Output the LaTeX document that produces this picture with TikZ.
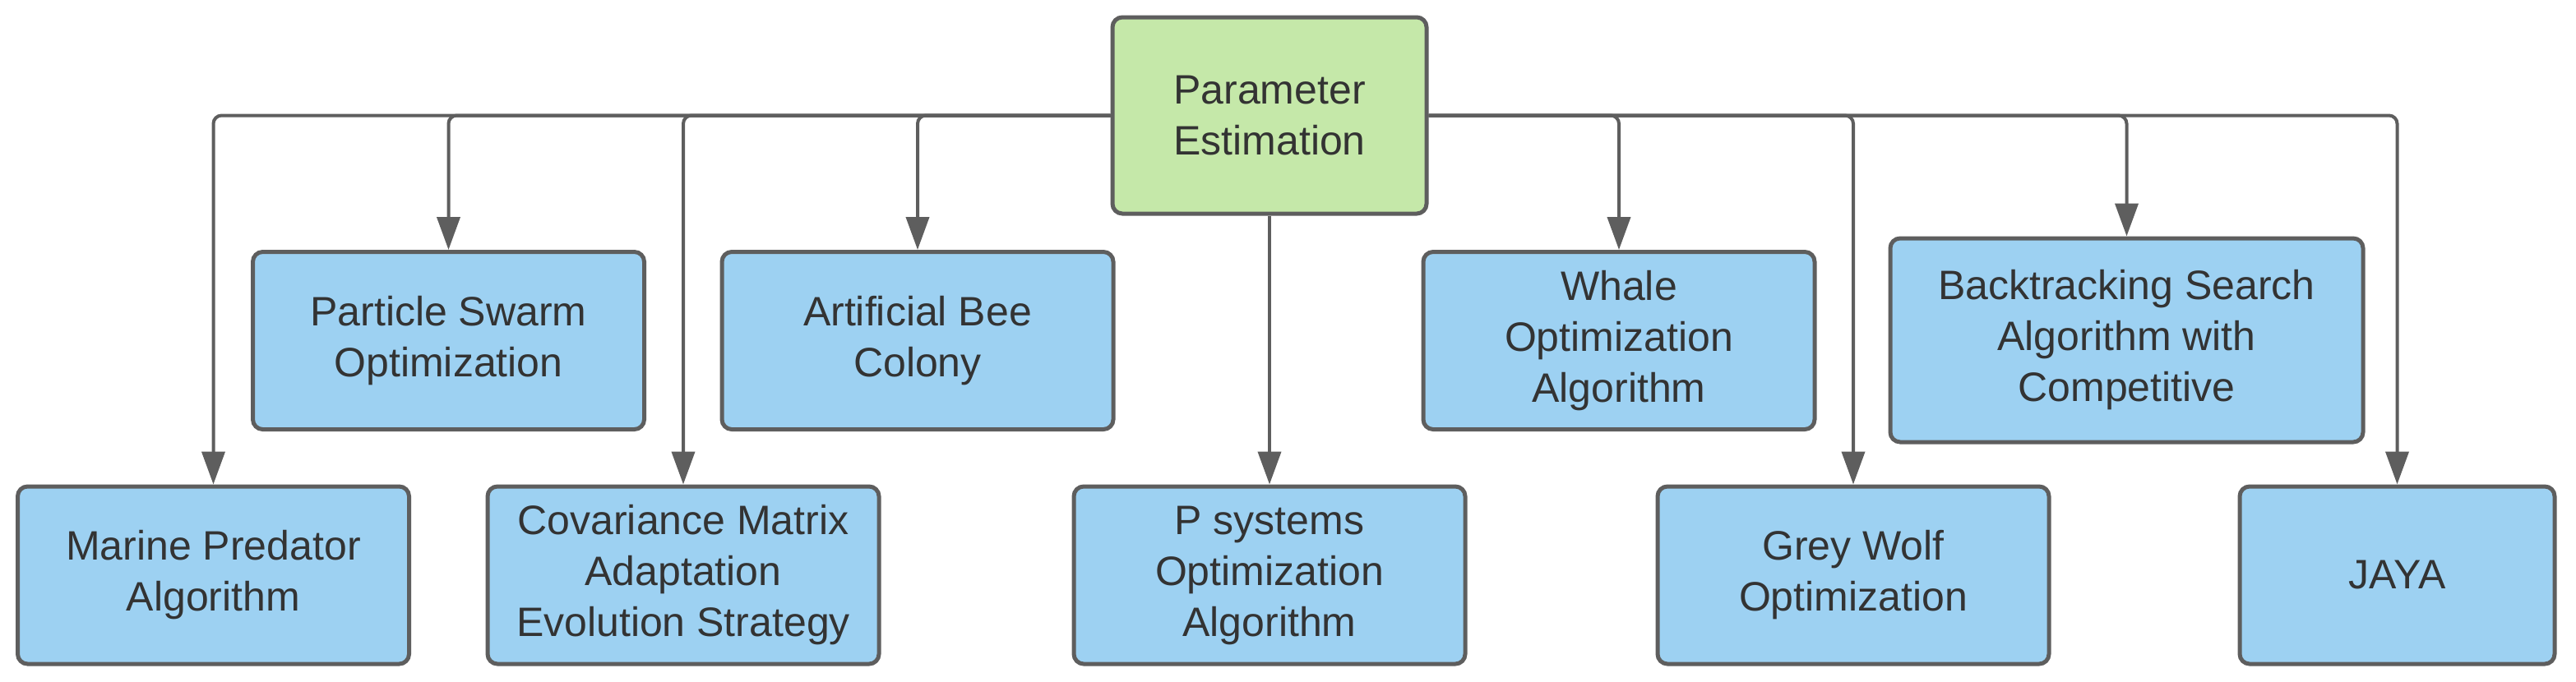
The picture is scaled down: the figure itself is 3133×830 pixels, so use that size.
\documentclass[tikz,border=0pt]{standalone}
\usepackage{fontspec}
\setmainfont{Liberation Sans}
\usetikzlibrary{arrows.meta}
\definecolor{boxblue}{HTML}{9DD1F2}
\definecolor{boxgreen}{HTML}{C5E8A9}
\definecolor{edge}{HTML}{5E5E5E}
\definecolor{txt}{HTML}{333333}
\begin{document}
\begin{tikzpicture}[x=1pt,y=-1pt,
  algbox/.style={draw=edge, line width=5pt, rounded corners=12pt, fill=boxblue,
    minimum width=476pt, minimum height=216pt, align=center, text=txt,
    font=\fontsize{50}{62}\selectfont, inner sep=0pt},
  rootbox/.style={algbox, fill=boxgreen, minimum width=382pt, minimum height=239pt},
  conn/.style={draw=edge, line width=4pt, rounded corners=10pt,
    -{Triangle[length=40pt,width=28pt]}}]
\path[use as bounding box] (0,0) rectangle (3133,830);
\node[rootbox] (root) at (1544,140.5) {Parameter\\Estimation};
\node[algbox] (mpa) at (259.5,700) {Marine Predator\\Algorithm};
\node[algbox] (pso) at (545.5,414.5) {Particle Swarm\\Optimization};
\node[algbox] (cma) at (831,700) {Covariance Matrix\\Adaptation\\Evolution Strategy};
\node[algbox] (abc) at (1116,414.5) {Artificial Bee\\Colony};
\node[algbox] (psys) at (1544,700) {P systems\\Optimization\\Algorithm};
\node[algbox] (woa) at (1969,414.5) {Whale\\Optimization\\Algorithm};
\node[algbox] (gwo) at (2254,700) {Grey Wolf\\Optimization};
\node[algbox, minimum width=575pt, minimum height=248pt] (bsa) at (2586.5,414) {Backtracking Search\\Algorithm with\\Competitive};
\node[algbox, minimum width=383pt] (jaya) at (2915.5,700) {JAYA};
\foreach \c in {mpa,pso,cma,abc}{
  \draw[conn] (root.west) -| (\c.north);
}
\foreach \c in {woa,gwo,bsa,jaya}{
  \draw[conn] (root.east) -| (\c.north);
}
\draw[conn] (root.south) -- (psys.north);
\end{tikzpicture}
\end{document}
